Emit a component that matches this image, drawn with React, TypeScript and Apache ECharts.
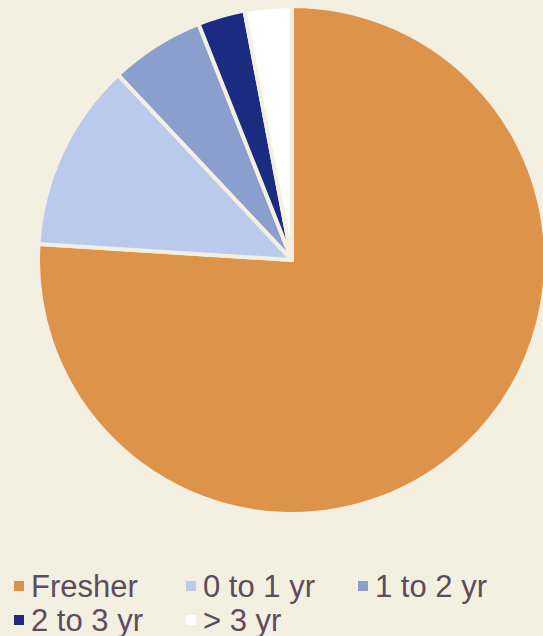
import React, { useEffect, useRef } from "react";
import * as echarts from "echarts";

const categories = ["Fresher", "0 to 1 yr", "1 to 2 yr", "2 to 3 yr", "> 3 yr"];
const values = [76, 12, 6, 3, 3];
const colors = ["#DD9349", "#BBCAEC", "#8B9FCF", "#1B2C80", "#FFFFFF"];

const BG = "#F4F0E1";
const TEXT = "#5D4C5B";

export default function App() {
  const ref = useRef<HTMLDivElement>(null);
  useEffect(() => {
    if (!ref.current) return;
    const chart = echarts.init(ref.current, undefined, { renderer: "svg" });
    const legendPos = [
      { left: 12, top: 570 },
      { left: 184, top: 570 },
      { left: 356, top: 570 },
      { left: 12, top: 604 },
      { left: 184, top: 604 },
    ];
    chart.setOption({
      animation: false,
      backgroundColor: BG,
      legend: categories.map((c, i) => ({
        data: [c],
        left: legendPos[i].left,
        top: legendPos[i].top,
        padding: 0,
        icon: "rect",
        itemWidth: 12,
        itemHeight: 12,
        selectedMode: false,
        textStyle: {
          fontFamily: "Liberation Sans, Arial, sans-serif",
          fontSize: 31,
          lineHeight: 32,
          color: TEXT,
          padding: [0, 0, 0, 1],
        },
      })),
      series: [
        {
          type: "pie",
          center: [292, 260],
          radius: 254,
          startAngle: 90,
          clockwise: true,
          label: { show: false },
          labelLine: { show: false },
          emphasis: { disabled: true },
          itemStyle: { borderColor: BG, borderWidth: 4 },
          data: categories.map((c, i) => ({
            name: c,
            value: values[i],
            itemStyle: { color: colors[i] },
          })),
        },
      ],
    });
    return () => chart.dispose();
  }, []);
  return (
    <div
      ref={ref}
      style={{ position: "absolute", left: 0, top: 0, width: 543, height: 636 }}
    />
  );
}
